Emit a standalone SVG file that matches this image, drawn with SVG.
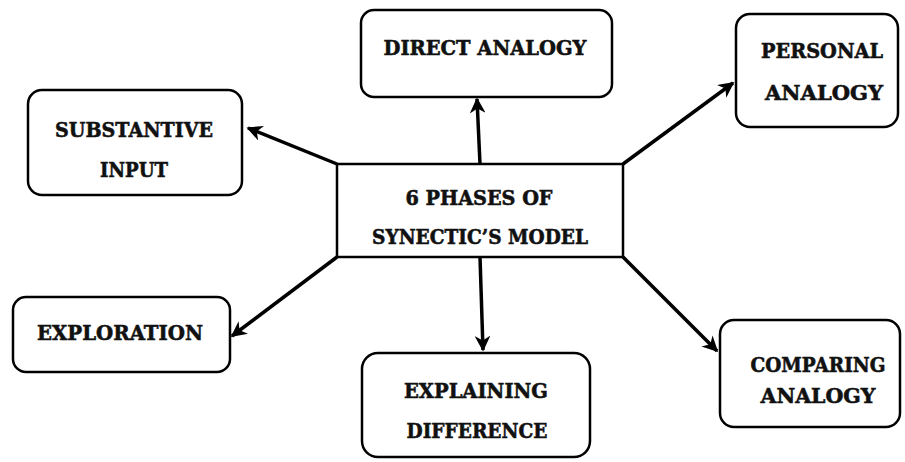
<svg xmlns="http://www.w3.org/2000/svg" width="905" height="462" viewBox="0 0 905 462">
<defs>
<marker id="ah" viewBox="0 0 10 10" refX="9" refY="5" markerWidth="4.5" markerHeight="4.5" orient="auto" markerUnits="strokeWidth">
<path d="M0,0 L10,5 L0,10 L3,5 z" fill="#000"/>
</marker>
<style>
.box{fill:#fff;stroke:#000;stroke-width:2.5}
.t{font-family:"DejaVu Serif","Liberation Serif",serif;font-weight:bold;font-size:21px;fill:#111;stroke:#111;stroke-width:0.6;text-anchor:middle}
.c{stroke:#000;stroke-width:3.5;fill:none;marker-end:url(#ah)}
</style>
</defs>
<rect width="905" height="462" fill="#fff"/>
<g id="connectors">
<line class="c" x1="480" y1="164" x2="477" y2="99"/>
<line class="c" x1="337" y1="164" x2="248" y2="128"/>
<line class="c" x1="623" y1="164" x2="733" y2="83"/>
<line class="c" x1="337" y1="257" x2="232" y2="336"/>
<line class="c" x1="623" y1="257" x2="717" y2="351"/>
<line class="c" x1="480" y1="257" x2="483" y2="350"/>
</g>
<g id="center">
<rect class="box" x="337" y="164" width="286" height="93"/>
<text class="t" x="479" y="205" textLength="147" lengthAdjust="spacingAndGlyphs">6 PHASES OF</text>
<text class="t" x="480" y="244" textLength="216" lengthAdjust="spacingAndGlyphs">SYNECTIC’S MODEL</text>
</g>
<g id="direct">
<rect class="box" x="361" y="10" width="251" height="87" rx="13"/>
<text class="t" x="485" y="55" textLength="203" lengthAdjust="spacingAndGlyphs">DIRECT ANALOGY</text>
</g>
<g id="substantive">
<rect class="box" x="28" y="90" width="214" height="105" rx="14"/>
<text class="t" x="134" y="137" textLength="158" lengthAdjust="spacingAndGlyphs">SUBSTANTIVE</text>
<text class="t" x="134" y="177" textLength="68" lengthAdjust="spacingAndGlyphs">INPUT</text>
</g>
<g id="personal">
<rect class="box" x="736" y="14" width="162" height="113" rx="14"/>
<text class="t" x="822" y="58" textLength="122" lengthAdjust="spacingAndGlyphs">PERSONAL</text>
<text class="t" x="824" y="100" textLength="118" lengthAdjust="spacingAndGlyphs">ANALOGY</text>
</g>
<g id="exploration">
<rect class="box" x="13" y="297" width="217" height="75" rx="13"/>
<text class="t" x="120" y="340" textLength="166" lengthAdjust="spacingAndGlyphs">EXPLORATION</text>
</g>
<g id="comparing">
<rect class="box" x="720" y="320" width="180" height="107" rx="14"/>
<text class="t" x="818" y="372" textLength="135" lengthAdjust="spacingAndGlyphs">COMPARING</text>
<text class="t" x="818" y="403" textLength="115" lengthAdjust="spacingAndGlyphs">ANALOGY</text>
</g>
<g id="explaining">
<rect class="box" x="362" y="353" width="228" height="104" rx="16"/>
<text class="t" x="476" y="398" textLength="144" lengthAdjust="spacingAndGlyphs">EXPLAINING</text>
<text class="t" x="477" y="438" textLength="141" lengthAdjust="spacingAndGlyphs">DIFFERENCE</text>
</g>
</svg>
